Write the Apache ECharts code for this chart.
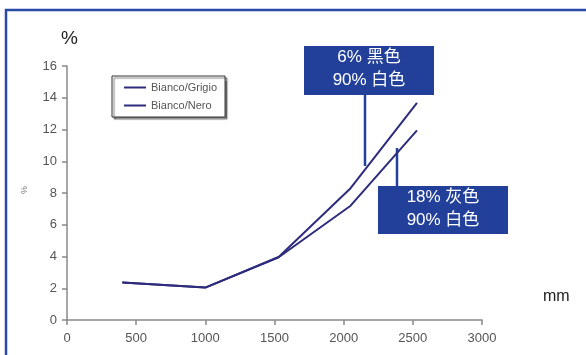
<!DOCTYPE html>
<html>
<head>
<meta charset="utf-8">
<script src="https://cdn.jsdelivr.net/npm/echarts@6/dist/echarts.min.js"></script>
<style>html,body{margin:0;padding:0;background:#fff;}#c{width:586px;height:355px;}</style>
</head>
<body>
<div id="c"></div>
<script>
var xLengths = [400, 1000, 1530, 2050, 2530];
var biancoNero = [2.36, 2.04, 3.97, 8.3, 13.67];
var biancoGrigio = [2.36, 2.04, 3.95, 7.2, 11.95];
var seriesNames = ['Bianco/Grigio', 'Bianco/Nero'];
var annoTop = ['6% 黑色', '90% 白色'];
var annoBottom = ['18% 灰色', '90% 白色'];

function pairs(v){ return xLengths.map(function(x,i){ return [x, v[i]]; }); }

var chart = echarts.init(document.getElementById('c'));
var lineColor = '#2d2b7c';
var blue = '#22409a';
var font = '"Liberation Sans", Arial, sans-serif';
var cjk = '"Liberation Sans", "Noto Sans CJK SC", sans-serif';
chart.setOption({
  animation: false,
  backgroundColor: '#fff',
  grid: {left: 67, right: 104, top: 66, bottom: 35},
  xAxis: {
    type: 'value', min: 0, max: 3000, interval: 500,
    axisLine: {lineStyle: {color: '#888', width: 1.5}},
    axisTick: {show: true, length: 5, lineStyle: {color: '#888', width: 1.5}},
    axisLabel: {color: '#555', fontSize: 13, fontFamily: font, margin: 12, formatter: function(v){ return String(v); }},
    splitLine: {show: false}
  },
  yAxis: {
    type: 'value', min: 0, max: 16, interval: 2,
    axisLine: {show: true, lineStyle: {color: '#888', width: 1.5}},
    axisTick: {show: true, length: 5, lineStyle: {color: '#888', width: 1.5}},
    axisLabel: {color: '#555', fontSize: 13, fontFamily: font, margin: 10},
    splitLine: {show: false}
  },
  legend: {
    left: 112, top: 76, orient: 'vertical',
    data: seriesNames,
    icon: 'rect', itemWidth: 22, itemHeight: 2, itemGap: 7,
    padding: [6, 8, 6, 12],
    backgroundColor: '#fff', borderColor: '#333', borderWidth: 1,
    shadowColor: 'rgba(0,0,0,0.5)', shadowOffsetX: 2, shadowOffsetY: 2, shadowBlur: 1,
    textStyle: {color: '#555', fontSize: 11, fontFamily: font}
  },
  series: [
    {name: seriesNames[0], type: 'line', data: pairs(biancoGrigio), symbol: 'none',
     lineStyle: {color: lineColor, width: 2}, itemStyle: {color: lineColor}},
    {name: seriesNames[1], type: 'line', data: pairs(biancoNero), symbol: 'none',
     lineStyle: {color: lineColor, width: 2}, itemStyle: {color: lineColor}}
  ],
  graphic: [
    {type: 'rect', shape: {x: 6, y: 10, width: 620, height: 400}, style: {fill: 'none', stroke: '#2a4aa8', lineWidth: 2.5}, z: 100},
    {type: 'text', left: 61, top: 29, style: {text: '%', fontSize: 19, fill: '#222', fontFamily: font}},
    {type: 'text', left: 543, top: 289, style: {text: 'mm', fontSize: 16, fill: '#222', fontFamily: font}},
    {type: 'text', x: 28, y: 186, rotation: -Math.PI/2, style: {text: '%', fontSize: 9, fill: '#777', fontFamily: font}},
    {type: 'rect', shape: {x: 304, y: 46, width: 130, height: 49}, style: {fill: blue}},
    {type: 'text', x: 369, y: 69, style: {text: annoTop.join('\n'), fontSize: 17, lineHeight: 23, fill: '#fff', align: 'center', verticalAlign: 'middle', fontFamily: cjk}},
    {type: 'line', shape: {x1: 365, y1: 95, x2: 365, y2: 166}, style: {stroke: blue, lineWidth: 2.5}},
    {type: 'rect', shape: {x: 378, y: 186, width: 130, height: 48}, style: {fill: blue}},
    {type: 'text', x: 443, y: 209, style: {text: annoBottom.join('\n'), fontSize: 17, lineHeight: 23, fill: '#fff', align: 'center', verticalAlign: 'middle', fontFamily: cjk}},
    {type: 'line', shape: {x1: 397, y1: 148, x2: 397, y2: 186}, style: {stroke: blue, lineWidth: 2.5}}
  ]
});
</script>
</body>
</html>
